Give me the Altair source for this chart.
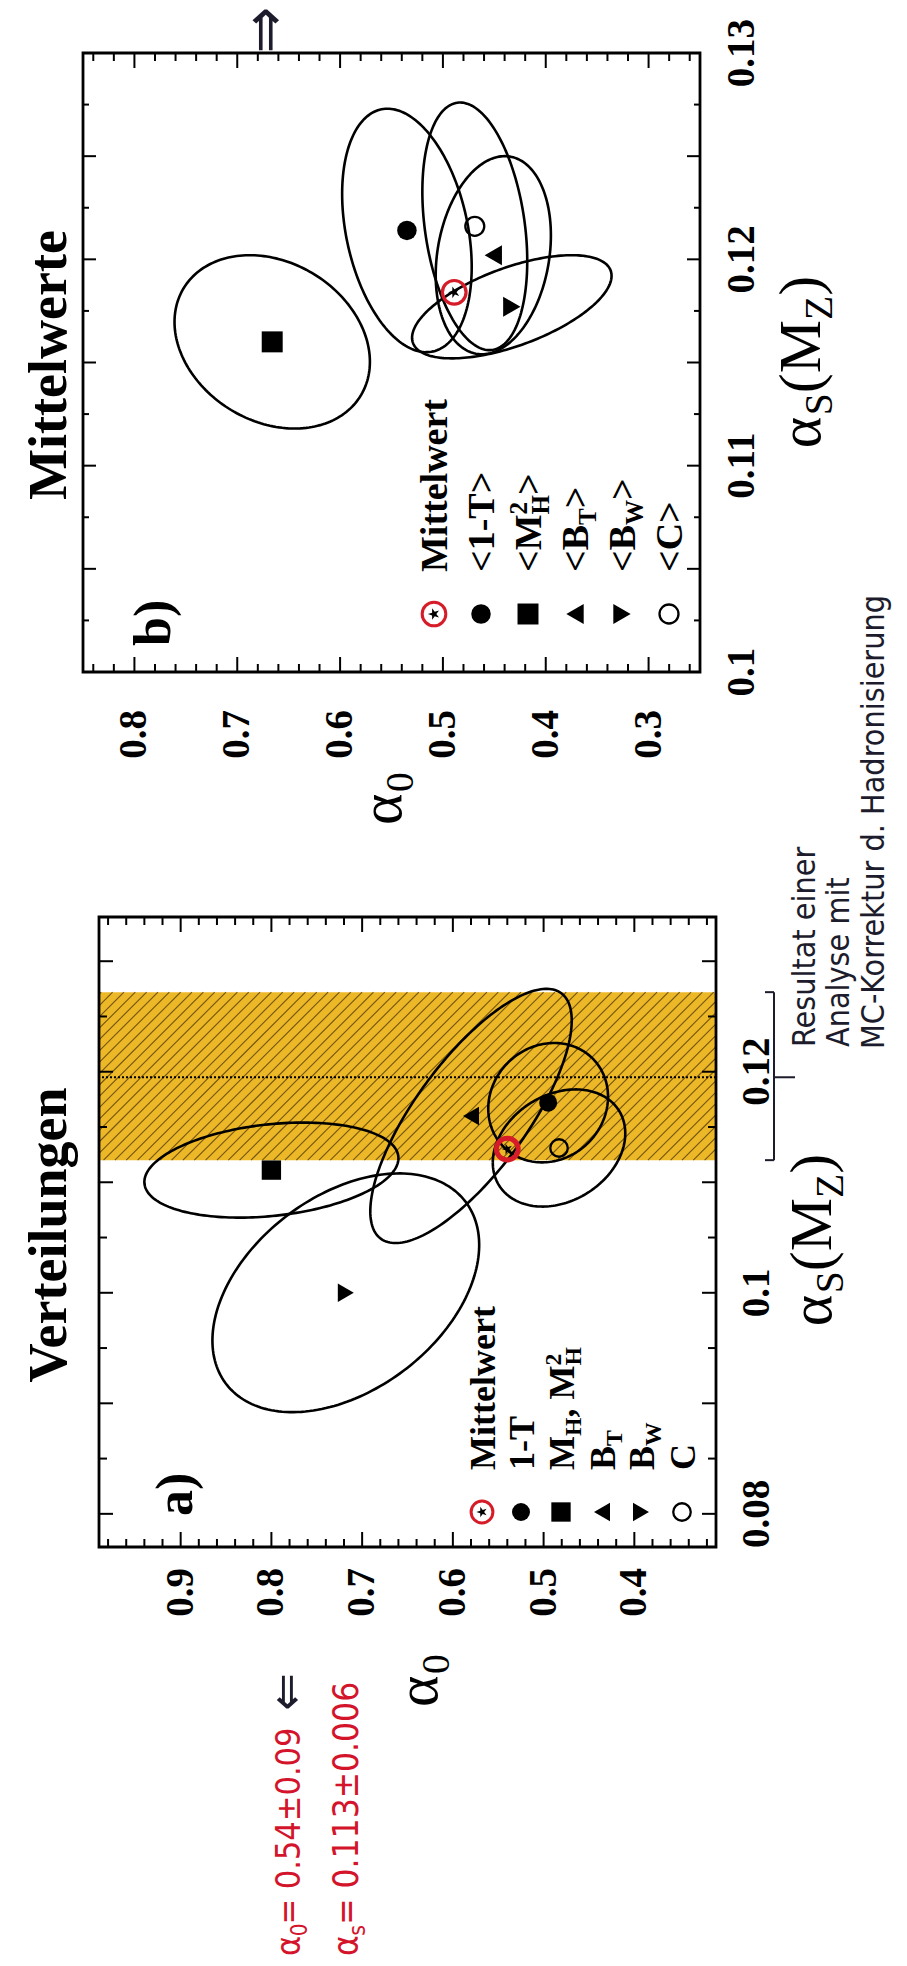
import altair as alt
import numpy as np
import pandas as pd

SERIF = "Liberation Serif, Times New Roman, serif"
HAND = "DejaVu Sans Condensed, DejaVu Sans, sans-serif"

# ---------------- panel b) "Mittelwerte" ----------------
B_NAMES = ["1-T", "M_H^2", "B_T", "B_W", "C"]
B_KIND = ["disc", "square", "tleft", "tright", "ring"]
B_ALPHA0 = [0.535, 0.666, 0.451, 0.433, 0.469]
B_ALPHAS = [0.1214, 0.1160, 0.1202, 0.1177, 0.1216]
B_SIG0 = [0.063, 0.095, 0.056, 0.097, 0.051]
B_SIGS = [0.0059, 0.0042, 0.0048, 0.0025, 0.0060]
B_RHO = [0.30, 0.23, -0.20, -0.60, 0.28]
B_MEAN = [0.489, 0.1184]

# ---------------- panel a) "Verteilungen" ----------------
A_NAMES = ["1-T", "M_H", "B_T", "B_W", "C"]
A_KIND = ["disc", "square", "tleft", "tright", "ring"]
A_ALPHA0 = [0.495, 0.800, 0.580, 0.718, 0.483]
A_ALPHAS = [0.1172, 0.1111, 0.1160, 0.1000, 0.1131]
A_SIG0 = [0.066, 0.140, 0.111, 0.147, 0.073]
A_SIGS = [0.0054, 0.0043, 0.0115, 0.0108, 0.0053]
A_RHO = [-0.10, -0.25, -0.75, -0.40, -0.25]
A_MEAN = [0.540, 0.1130]
A_BAND = [0.1120, 0.1272]
A_BAND_LINE = 0.1195

# axis labels
B_A0_LAB = [0.8, 0.7, 0.6, 0.5, 0.4, 0.3]
B_AS_LAB = [0.10, 0.11, 0.12, 0.13]
A_A0_LAB = [0.9, 0.8, 0.7, 0.6, 0.5, 0.4]
A_AS_LAB = [0.08, 0.10, 0.12]


def P(v):
    return v - 8


def lab(v):
    return ("%.2f" % v).rstrip("0")


# panel geometry (page pixels) -------------------------------------------
PB = dict(dom0=[0.25, 0.85], rng0=[700, 83], domS=[0.10, 0.13], rngS=[672, 53],
          t0=[round(0.26 + 0.02 * i, 3) for i in range(30)],
          tS=[round(0.1025 + 0.0025 * i, 4) for i in range(11)],
          maj0=0.1, majS=0.005, L0=(15, 8), LS=(13, 6))
PA = dict(dom0=[0.31, 0.99], rng0=[716, 99], domS=[0.077, 0.134], rngS=[1547, 917],
          t0=[round(0.32 + 0.02 * i, 3) for i in range(34)],
          tS=[round(0.08 + 0.005 * i, 4) for i in range(11)],
          maj0=0.1, majS=0.01, L0=(15, 8), LS=(14, 8))


def xs(p):
    return alt.Scale(domain=p["dom0"], range=[P(p["rng0"][0]), P(p["rng0"][1])], nice=False, zero=False)


def ys(p):
    return alt.Scale(domain=p["domS"], range=[P(p["rngS"][0]), P(p["rngS"][1])], nice=False, zero=False)


def X(p, f="a0"):
    return alt.X(f + ":Q", scale=xs(p), axis=None)


def Y(p, f="aS"):
    return alt.Y(f + ":Q", scale=ys(p), axis=None)


def is_major(v, step):
    r = v / step
    return abs(r - round(r)) < 1e-6


STAR = ("M-1,0 L-0.309,-0.2245 L-0.309,-0.951 L0.118,-0.363 L0.809,-0.588 L0.382,0 "
        "L0.809,0.588 L0.118,0.363 L-0.309,0.951 L-0.309,0.2245 Z")
SYM = {"disc": ("circle", True), "square": ("square", True), "tleft": ("triangle-left", True),
       "tright": ("triangle-right", True), "ring": ("circle", False)}
SYM_SIZE = {"disc": 380, "square": 440, "tleft": 400, "tright": 400, "ring": 360}


def symbol_layers(df, xe, ye, kind, scale=1.0, ring_w=3.5):
    if kind == "mean":
        return [
            alt.Chart(df).mark_point(shape="circle", filled=False, size=560 * scale, color="#d61c28",
                                     strokeWidth=ring_w, opacity=1).encode(x=xe, y=ye),
            alt.Chart(df).mark_point(shape=STAR, filled=True, size=150 * scale, color="black",
                                     opacity=1).encode(x=xe, y=ye),
        ]
    shp, filled = SYM[kind]
    return [alt.Chart(df).mark_point(shape=shp, filled=filled, size=SYM_SIZE[kind] * scale, color="black",
                                     strokeWidth=2.3, opacity=1).encode(x=xe, y=ye)]


def ellipse_df(names, a0, aS, s0, sS, rho, n=200):
    t = np.linspace(0, 2 * np.pi, n)
    rows = []
    for nm, cx, cy, sx, sy, r in zip(names, a0, aS, s0, sS, rho):
        xx = cx + sx * np.cos(t)
        yy = cy + sy * (r * np.cos(t) + np.sqrt(1 - r * r) * np.sin(t))
        for i in range(n):
            rows.append(dict(name=nm, i=i, a0=xx[i], aS=yy[i]))
    return pd.DataFrame(rows)


# composed rotated text ----------------------------------------------------
W_SB = {'<': .570, '>': .570, '1': .5, '-': .333, 'T': .667, 'M': .944, 'B': .667, 'C': .722,
        'H': .778, 'W': 1.0, '2': .5, ',': .25, ' ': .25, '0': .5}
W_SR = {'α': .55, 'S': .556, '(': .333, 'M': .889, 'Z': .611, ')': .333, '0': .5}
W_H = {'α': .58, 's': .47, '0': .52, '.': .28, ' ': .28, '=': .7, '±': .7}


def compose(pieces, bx, y0, size, widths, center=False, subf=0.66):
    def w(txt, fs):
        return sum(widths.get(c, 0.52) for c in txt) * fs
    total = 0
    for txt, kind in pieces:
        fs = size if kind == "n" else size * subf
        if kind != "sup0":
            total += w(txt, fs)
    y = y0 + total / 2 if center else y0
    rows = []
    for txt, kind in pieces:
        fs = size if kind == "n" else size * subf
        dx = 0 if kind == "n" else (0.2 * size if kind == "sub" else -0.36 * size)
        rows.append(dict(t=txt, px=P(bx + dx), py=P(y), fs=fs))
        if kind != "sup0":
            y -= w(txt, fs)
    return rows


def text_layer(rows, font, weight="normal", color="black"):
    df = pd.DataFrame(rows)
    return alt.Chart(df).mark_text(angle=270, align="left", baseline="alphabetic", font=font,
                                   fontWeight=weight, color=color).encode(
        x=alt.X("px:Q", scale=None, axis=None), y=alt.Y("py:Q", scale=None, axis=None),
        size=alt.Size("fs:Q", scale=None, legend=None), text="t:N")


def panel(p, names, kinds, a0, aS, s0, sS, rho, mean, a0lab, aslab, lab_y, lab_x, msc, ring_w):
    L = []
    edf = ellipse_df(names, a0, aS, s0, sS, rho)
    L.append(alt.Chart(edf).mark_line(color="black", strokeWidth=2.6).encode(
        x=X(p), y=Y(p), detail="name:N", order="i:Q"))
    for nm, k, x0, y0 in zip(names, kinds, a0, aS):
        L += symbol_layers(pd.DataFrame({"a0": [x0], "aS": [y0]}), X(p), Y(p), k, msc)
    L += symbol_layers(pd.DataFrame({"a0": [mean[0]], "aS": [mean[1]]}), X(p), Y(p), "mean", msc, ring_w)
    fdf = pd.DataFrame({"x0": [p["dom0"][0]], "x1": [p["dom0"][1]], "y0": [p["domS"][0]], "y1": [p["domS"][1]]})
    L.append(alt.Chart(fdf).mark_rect(fillOpacity=0, stroke="black", strokeWidth=2.8).encode(
        x=X(p, "x0"), x2="x1:Q", y=Y(p, "y0"), y2="y1:Q"))
    yb, yt = p["rngS"][0], p["rngS"][1]
    xl, xr = p["rng0"][1], p["rng0"][0]
    for major, Ln in ((True, p["L0"][0]), (False, p["L0"][1])):
        vals = [v for v in p["t0"] if is_major(v, p["maj0"]) == major]
        d = pd.DataFrame({"a0": vals})
        L.append(alt.Chart(d).mark_rule(color="black", strokeWidth=2).encode(
            x=X(p), y=alt.value(P(yb)), y2=alt.value(P(yb - Ln))))
        L.append(alt.Chart(d).mark_rule(color="black", strokeWidth=2).encode(
            x=X(p), y=alt.value(P(yt)), y2=alt.value(P(yt + Ln))))
    for major, Ln in ((True, p["LS"][0]), (False, p["LS"][1])):
        vals = [v for v in p["tS"] if is_major(v, p["majS"]) == major]
        d = pd.DataFrame({"aS": vals})
        L.append(alt.Chart(d).mark_rule(color="black", strokeWidth=2).encode(
            y=Y(p), x=alt.value(P(xr)), x2=alt.value(P(xr - Ln))))
        L.append(alt.Chart(d).mark_rule(color="black", strokeWidth=2).encode(
            y=Y(p), x=alt.value(P(xl)), x2=alt.value(P(xl + Ln))))
    d = pd.DataFrame({"a0": a0lab, "lab": [lab(v) for v in a0lab]})
    L.append(alt.Chart(d).mark_text(angle=270, align="right", baseline="middle", font=SERIF,
                                    fontWeight="bold", fontSize=39).encode(
        x=X(p), y=alt.value(P(lab_y)), text="lab:N"))
    d = pd.DataFrame({"aS": aslab, "lab": [lab(v) for v in aslab]})
    L.append(alt.Chart(d).mark_text(angle=270, align="center", baseline="top", font=SERIF,
                                    fontWeight="bold", fontSize=39).encode(
        y=Y(p), x=alt.value(P(lab_x)), text="lab:N"))
    return L


layers = []

# ---- panel a background: highlighter band over hatched band ----
band = pd.DataFrame({"x0": [PA["dom0"][0]], "x1": [PA["dom0"][1]], "y0": [A_BAND[0]], "y1": [A_BAND[1]]})
layers.append(alt.Chart(band).mark_rect(color="#ECB41C", opacity=0.95).encode(
    x=X(PA, "x0"), x2="x1:Q", y=Y(PA, "y0"), y2="y1:Q"))
# hatch decoration (diagonal strokes clipped to the frame)
D = 0.185
hrows = []
for b in np.arange(0.31, 0.99 + D, 0.0125):
    u0 = max(0.0, (b - 0.99) / D)
    u1 = min(1.0, (b - 0.31) / D)
    if u1 <= u0:
        continue
    hrows.append(dict(a0=b - D * u0, aS=A_BAND[0] + (A_BAND[1] - A_BAND[0]) * u0,
                      b0=b - D * u1, bS=A_BAND[0] + (A_BAND[1] - A_BAND[0]) * u1))
hatch = pd.DataFrame(hrows)
layers.append(alt.Chart(hatch).mark_rule(color="#3d2a00", strokeWidth=1.1, opacity=0.7).encode(
    x=X(PA), y=Y(PA), x2="b0:Q", y2="bS:Q"))
dl = pd.DataFrame({"x0": [PA["dom0"][0]], "x1": [PA["dom0"][1]], "aS": [A_BAND_LINE]})
layers.append(alt.Chart(dl).mark_rule(color="black", strokeWidth=1.8, strokeDash=[2, 2]).encode(
    x=X(PA, "x0"), x2="x1:Q", y=Y(PA)))

layers += panel(PB, B_NAMES, B_KIND, B_ALPHA0, B_ALPHAS, B_SIG0, B_SIGS, B_RHO, B_MEAN,
                B_A0_LAB, B_AS_LAB, 710, 723, 1.0, 3.2)
layers += panel(PA, A_NAMES, A_KIND, A_ALPHA0, A_ALPHAS, A_SIG0, A_SIGS, A_RHO, A_MEAN,
                A_A0_LAB, A_AS_LAB, 1568, 738, 0.85, 5.0)

# ---- legends (inside the frames) ----
B_LEG_X = [434, 481, 528, 575, 622, 669]
A_LEG_X = [482, 521, 561, 602, 641, 682]
LEG_KIND = ["mean", "disc", "square", "tleft", "tright", "ring"]
for xs_, ypg, sc in ((B_LEG_X, 614, 1.0), (A_LEG_X, 1512, 0.85)):
    for xp, k in zip(xs_, LEG_KIND):
        d = pd.DataFrame({"px": [P(xp)], "py": [P(ypg)]})
        layers += symbol_layers(d, alt.X("px:Q", scale=None, axis=None),
                                alt.Y("py:Q", scale=None, axis=None), k, sc, 3.0)

B_LEG_TXT = [[("Mittelwert", "n")], [("<1-T>", "n")],
             [("<M", "n"), ("2", "sup0"), ("H", "sub"), (">", "n")],
             [("<B", "n"), ("T", "sub"), (">", "n")], [("<B", "n"), ("W", "sub"), (">", "n")],
             [("<C>", "n")]]
A_LEG_TXT = [[("Mittelwert", "n")], [("1-T", "n")],
             [("M", "n"), ("H", "sub"), (", M", "n"), ("2", "sup0"), ("H", "sub")],
             [("B", "n"), ("T", "sub")], [("B", "n"), ("W", "sub")], [("C", "n")]]
rows = []
for xp, pcs in zip(B_LEG_X, B_LEG_TXT):
    rows += compose(pcs, xp + 13, 572, 38, W_SB)
for xp, pcs in zip(A_LEG_X, A_LEG_TXT):
    rows += compose(pcs, xp + 13, 1470, 36, W_SB)
rows += compose([("b)", "n")], 170, 646, 52, W_SB)
rows += compose([("a)", "n")], 192, 1516, 52, W_SB)
layers.append(text_layer(rows, SERIF, "bold"))

# ---- panel titles ----
tdf = pd.DataFrame({"t": ["Mittelwerte", "Verteilungen"], "px": [P(66), P(66)], "py": [P(365), P(1235)]})
layers.append(alt.Chart(tdf).mark_text(angle=270, align="center", baseline="alphabetic", font=SERIF,
                                       fontWeight="bold", fontSize=54).encode(
    x=alt.X("px:Q", scale=None, axis=None), y=alt.Y("py:Q", scale=None, axis=None), text="t:N"))

# ---- axis titles ----
rows = []
rows += compose([("α", "n"), ("0", "sub")], 401, 825, 60, W_SR)
rows += compose([("α", "n"), ("0", "sub")], 437, 1707, 60, W_SR)
AS_T = [("α", "n"), ("S", "sub"), ("(M", "n"), ("Z", "sub"), (")", "n")]
rows += compose(AS_T, 820, 362, 60, W_SR, center=True)
rows += compose(AS_T, 831, 1240, 60, W_SR, center=True)
layers.append(text_layer(rows, SERIF, "normal"))

# ---- handwritten notes ----
red = []
red += compose([("α", "n"), ("0", "sub"), ("\u00a0= 0.54±0.09", "n")], 300, 1956, 34, W_H)
red += compose([("α", "n"), ("s", "sub"), ("\u00a0= 0.113±0.006", "n")], 358, 1956, 35, W_H)
layers.append(text_layer(red, HAND, "normal", "#d3142b"))
blk = []
blk += compose([("Resultat einer", "n")], 815, 1047, 32, W_H)
blk += compose([("Analyse mit", "n")], 849, 1047, 32, W_H)
blk += compose([("MC-Korrektur d. Hadronisierung", "n")], 884, 1049, 32, W_H)
layers.append(text_layer(blk, HAND, "normal", "#1c1c2c"))
arr = pd.DataFrame({"t": ["⇐", "⇒"], "px": [P(288), P(266)], "py": [P(1692), P(30)], "fs": [50, 62]})
layers.append(alt.Chart(arr).mark_text(angle=270, align="center", baseline="middle", font=HAND,
                                       color="#1c1c2c").encode(
    x=alt.X("px:Q", scale=None, axis=None), y=alt.Y("py:Q", scale=None, axis=None),
    size=alt.Size("fs:Q", scale=None, legend=None), text="t:N"))

# brace beside the "0.12" label of panel a
br = pd.DataFrame({"aS": [A_BAND[0]], "bS": [A_BAND[1]]})
layers.append(alt.Chart(br).mark_rule(color="#1c1c2c", strokeWidth=2).encode(
    y=Y(PA), y2="bS:Q", x=alt.value(P(774))))
ends = pd.DataFrame({"aS": A_BAND})
layers.append(alt.Chart(ends).mark_rule(color="#1c1c2c", strokeWidth=2).encode(
    y=Y(PA), x=alt.value(P(765)), x2=alt.value(P(774))))
mid = pd.DataFrame({"aS": [A_BAND_LINE]})
layers.append(alt.Chart(mid).mark_rule(color="#1c1c2c", strokeWidth=2).encode(
    y=Y(PA), x=alt.value(P(774)), x2=alt.value(P(795))))

chart = alt.layer(*layers).resolve_scale(x="independent", y="independent").properties(
    width=891, height=1950, autosize=alt.AutoSizeParams(type="none"), padding=0
).configure_view(stroke=None)

chart.save("out.html", embed_options={"renderer": "svg", "actions": False})
